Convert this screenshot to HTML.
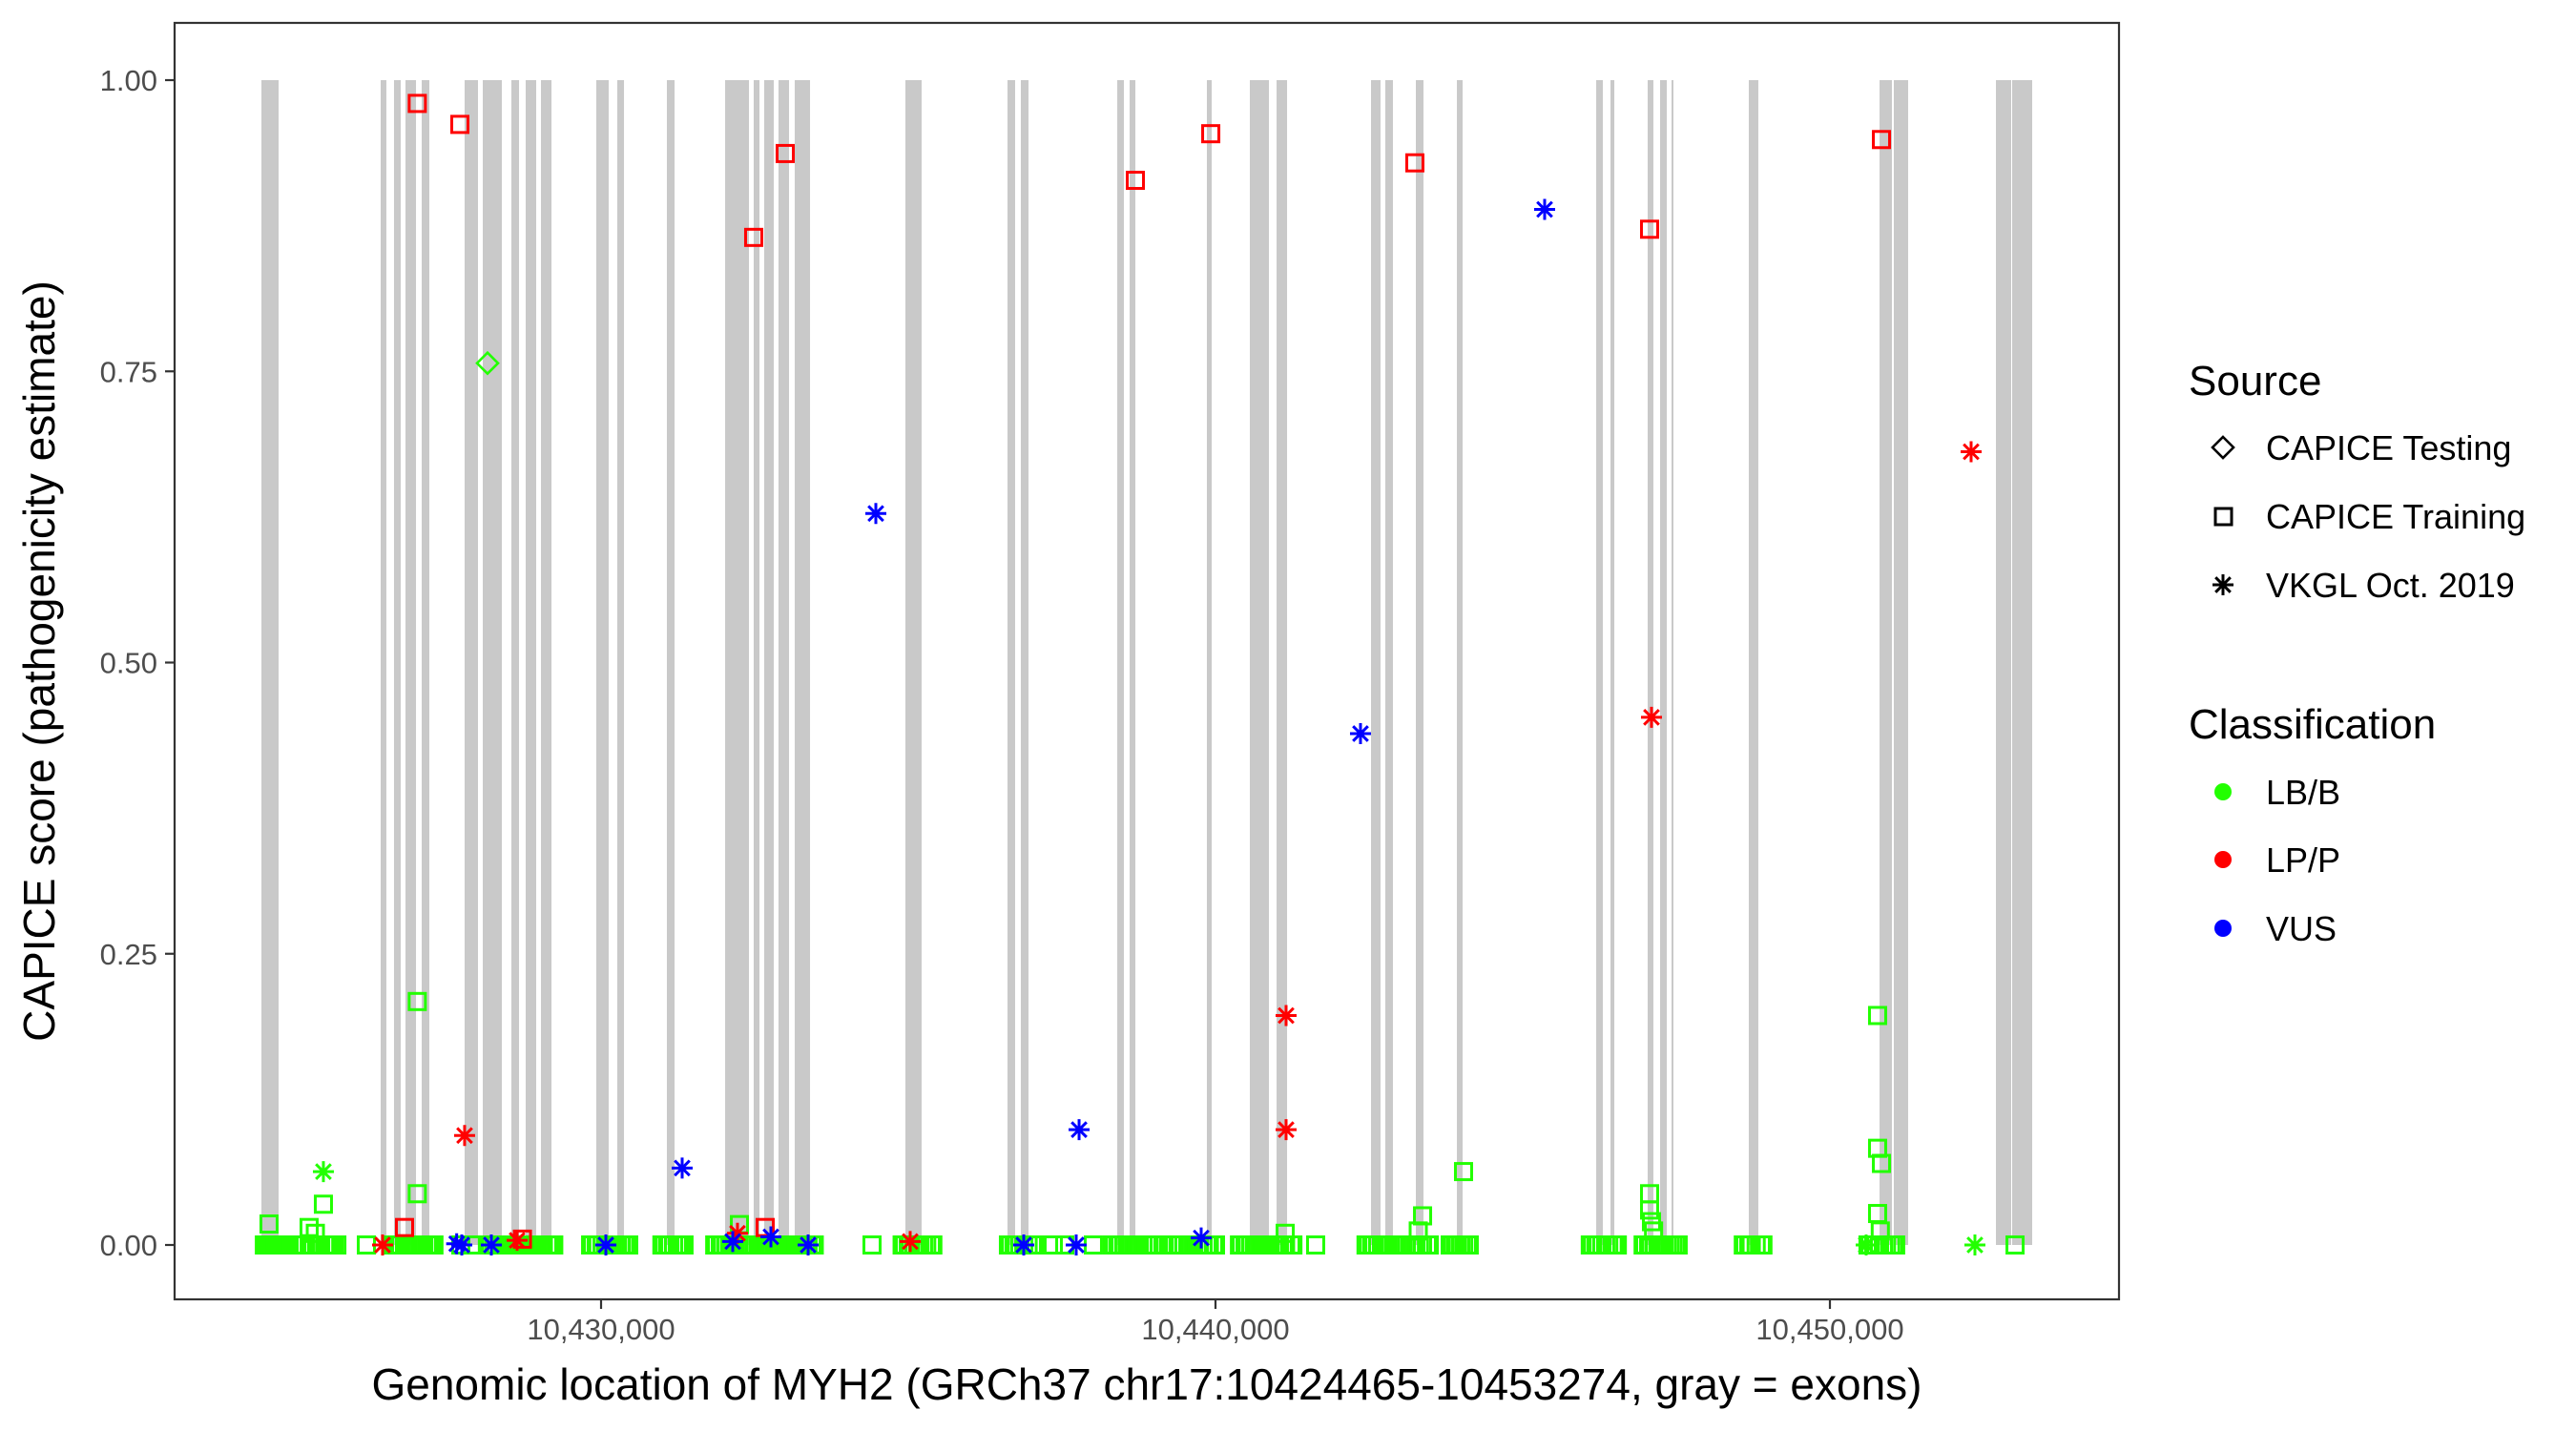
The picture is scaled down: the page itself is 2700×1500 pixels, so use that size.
<!DOCTYPE html>
<html><head><meta charset="utf-8"><style>
html,body{margin:0;padding:0;background:#fff;}
svg{display:block;font-family:"Liberation Sans",Arial,sans-serif;}
</style></head><body>
<svg id="chart" width="2700" height="1500" viewBox="0 0 2700 1500"></svg>
<script>
// ---- data ----
const exonStarts=[10424472,10426413,10426630,10426817,10427081,10427779,10428075,10428540,10428773,10429022,10429922,10430264,10431071,10432019,10432484,10432655,10432888,10433152,10434953,10436615,10436832,10438401,10438603,10439860,10440559,10440994,10442531,10442764,10443261,10443929,10446196,10446429,10447034,10447236,10447422,10448680,10450808,10451040,10452702,10452966];
const exonEnds=[10424752,10426506,10426739,10426988,10427205,10427997,10428385,10428665,10428944,10429193,10430124,10430373,10431196,10432407,10432578,10432811,10433059,10433401,10435217,10436739,10436957,10438509,10438696,10439938,10440870,10441165,10442686,10442888,10443385,10444022,10446304,10446491,10447127,10447345,10447453,10448835,10451009,10451273,10452950,10453292];
// CAPICE Training (squares)
const trainRedPos=[10427009,10427702,10432484,10432997,10438696,10439923,10443245,10447065,10450839,10426801,10432671,10428720];
const trainRedVal=[0.980,0.962,0.865,0.937,0.914,0.954,0.929,0.872,0.949,0.015,0.015,0.005];
const trainGreenPos=[10427009,10427009,10425481,10424596,10425248,10432252,10444037,10450776,10450776,10450839,10450776,10447065,10447065,10443370,10441134,10447096,10447130,10443300,10425350,10450820,
10424550,10424643,10424736,10424829,10425186,10425311,10425435,10425559,10425652,10426180,10426615,10426739,10426863,10426988,10427112,10427236,10427717,10427904,10428199,10428354,10428509,10428665,10428820,10428975,10429130,10429193,10429860,10430016,10430171,10430326,10430419,10431025,10431180,10431320,10431879,10432034,10432189,10432345,10432500,10432655,10432811,10432966,10433121,10433276,10433432,10434410,10434938,10435093,10435248,10435373,10436662,10436817,10437019,10437360,10437547,10438012,10438354,10438509,10438665,10438820,10438975,10439332,10439488,10439643,10439798,10439969,10440419,10440575,10440730,10440885,10441040,10441227,10441630,10442485,10442640,10442795,10442950,10443106,10443261,10443447,10443851,10443991,10444099,10446134,10446289,10446506,10446988,10447143,10447298,10447500,10448618,10448882,10450652,10450808,10451040,10453013];
const trainGreenVal=[0.209,0.044,0.035,0.018,0.015,0.0175,0.063,0.197,0.083,0.070,0.027,0.044,0.030,0.025,0.010,0.020,0.012,0.012,0.010,0.012,
0,0,0,0,0,0,0,0,0,0,0,0,0,0,0,0,0,0,0,0,0,0,0,0,0,0,0,0,0,0,0,0,0,0,0,0,0,0,0,0,0,0,0,0,0,0,0,0,0,0,0,0,0,0,0,0,0,0,0,0,0,0,0,0,0,0,0,0,0,0,0,0,0,0,0,0,0,0,0,0,0,0,0,0,0,0,0,0,0,0,0,0,0,0,0,0,0,0];
// additional densely packed benign training variants scored ~0
const trainGreenZeroPos=[10424520,10424580,10424610,10424680,10424700,10424770,10424800,10424860,
10425150,10425250,10425280,10425370,10425400,10425500,10425530,10425600,10425620,10425700,
10426580,10426660,10426700,10426800,10426830,10426920,10426950,10427050,10427080,10427170,10427200,10427280,
10428150,10428250,10428290,10428400,10428440,10428560,10428600,10428710,10428750,10428860,10428900,10429020,10429060,10429170,10429230,
10429830,10429920,10429950,10430070,10430110,10430230,10430270,10430380,10430450,
10430990,10431080,10431120,10431240,10431280,10431350,
10431850,10431940,10431980,10432090,10432130,10432240,10432290,10432400,10432440,10432560,10432600,10432710,10432750,10432870,10432910,10433020,10433060,10433180,10433220,10433330,10433370,10433470,
10434900,10435000,10435040,10435150,10435190,10435300,10435400,
10436630,10436720,10436760,10436880,10436950,10437050,
10438320,10438410,10438450,10438560,10438600,10438720,10438760,10438880,10438920,10439010,
10439300,10439390,10439430,10439550,10439590,10439700,10439740,10439860,10439900,10440000,
10440390,10440480,10440520,10440630,10440670,10440790,10440830,10440940,10440980,10441100,10441140,10441260,
10442450,10442540,10442580,10442700,10442740,10442850,10442900,10443010,10443050,10443170,10443210,10443320,10443370,10443480,
10443820,10443900,10443940,10444040,10444130,
10446100,10446190,10446230,10446350,10446400,10446470,10446540,
10446960,10447050,10447090,10447200,10447240,10447350,10447400,10447450,10447530,
10448590,10448680,10448720,10448800,10448910,
10450620,10450710,10450750,10450870,10450920,10450990,10451070];
// CAPICE Testing (diamond)
const testGreenPos=[10428152];
const testGreenVal=[0.757];
// VKGL (stars)
const vkglRedPos=[10427779,10441149,10441149,10447096,10452298,10426444,10435031,10428634,10432220];
const vkglRedVal=[0.094,0.197,0.099,0.453,0.681,0,0.003,0.004,0.010];
const vkglBluePos=[10434472,10431320,10437780,10442360,10445357,10427733,10428214,10430078,10432143,10432764,10433370,10436879,10437733,10439767,10427650];
const vkglBlueVal=[0.628,0.066,0.099,0.439,0.889,0,0,0,0.003,0.007,0,0,0,0.006,0.001];
const vkglGreenPos=[10425481,10452360,10450590];
const vkglGreenVal=[0.063,0,0];
const yTicks=[0,0.25,0.5,0.75,1];
const yTickLabels=["0.00","0.25","0.50","0.75","1.00"];
const xTicks=[10430000,10440000,10450000];
const xTickLabels=["10,430,000","10,440,000","10,450,000"];

// ---- axes ----
const PL=183,PR=2221,PT=24,PB=1362;
const x=bp=>630+(bp-10430000)*0.0644;
const y=v=>1305-v*1221;
const NS="http://www.w3.org/2000/svg";
const svg=document.getElementById('chart');
function mk(tag,attrs,parent){const e=document.createElementNS(NS,tag);for(const k in attrs)e.setAttribute(k,attrs[k]);(parent||svg).appendChild(e);return e;}
const COL={g:"#22ff00",r:"#ff0000",b:"#0000ff"};

const bg=mk('rect',{x:PL,y:PT,width:PR-PL,height:PB-PT,fill:"#fff"});



const exG=mk('g',{});


exonStarts.forEach((s,i)=>{
  const r=mk('rect',{x:x(s),y:y(1),width:Math.max(1,x(exonEnds[i])-x(s)),height:y(0)-y(1),fill:"#c9c9c9"},exG);
  
  
});

function square(g,cx,cy,c){return mk('rect',{x:cx-8.5,y:cy-8.5,width:17,height:17,fill:"none",stroke:c,"stroke-width":3},g);}
function diamond(g,cx,cy,c){return mk('polygon',{points:`${cx},${cy-11} ${cx+11},${cy} ${cx},${cy+11} ${cx-11},${cy}`,fill:"none",stroke:c,"stroke-width":2.6},g);}
function star(g,cx,cy,c){const r=11,d=7.8;return mk('path',{d:`M${cx-r},${cy}H${cx+r}M${cx},${cy-r}V${cy+r}M${cx-d},${cy-d}L${cx+d},${cy+d}M${cx-d},${cy+d}L${cx+d},${cy-d}`,stroke:c,"stroke-width":3,fill:"none"},g);}

function series(name,pos,vals,fn,c){
  const g=mk('g',{});
  
  
  pos.forEach((p,i)=>{const e=fn(g,x(p),y(vals?vals[i]:0),c);
    
    });
}
series('training-lbb-zero-points',trainGreenZeroPos,null,square,COL.g);
series('training-lbb-points',trainGreenPos,trainGreenVal,square,COL.g);
series('testing-lbb-points',testGreenPos,testGreenVal,diamond,COL.g);
series('vkgl-lbb-points',vkglGreenPos,vkglGreenVal,star,COL.g);
series('training-lpp-points',trainRedPos,trainRedVal,square,COL.r);
series('vkgl-lpp-points',vkglRedPos,vkglRedVal,star,COL.r);
series('vkgl-vus-points',vkglBluePos,vkglBlueVal,star,COL.b);

const border=mk('rect',{x:PL,y:PT,width:PR-PL,height:PB-PT,fill:"none",stroke:"#333","stroke-width":2.2});



const yAx=mk('g',{});


yTicks.forEach((v,i)=>{
  mk('line',{x1:PL-10,x2:PL,y1:y(v),y2:y(v),stroke:"#333","stroke-width":2.2},yAx);
  const t=mk('text',{x:PL-18,y:y(v)+11,"text-anchor":"end","font-size":31,fill:"#4d4d4d"},yAx);
  t.textContent=yTickLabels[i];
  
  
});
const xAx=mk('g',{});


xTicks.forEach((v,i)=>{
  mk('line',{x1:x(v),x2:x(v),y1:PB,y2:PB+10,stroke:"#333","stroke-width":2.2},xAx);
  const t=mk('text',{x:x(v),y:PB+42,"text-anchor":"middle","font-size":31,fill:"#4d4d4d"},xAx);
  t.textContent=xTickLabels[i];
  
  
});
</script>
<svg width="2700" height="1500" style="position:absolute;left:0;top:0;font-family:'Liberation Sans',Arial,sans-serif">
<text x="1202" y="1467" text-anchor="middle" font-size="46" fill="#000">Genomic location of MYH2 (GRCh37 chr17:10424465-10453274, gray = exons)</text>
<text transform="translate(57,693) rotate(-90)" text-anchor="middle" font-size="46" fill="#000">CAPICE score (pathogenicity estimate)</text>
<g>
<text x="2294" y="414" font-size="44">Source</text>
<g><polygon points="2330,458 2341,469 2330,480 2319,469" fill="none" stroke="#000" stroke-width="2.6"/><text x="2375" y="482" font-size="36">CAPICE Testing</text></g>
<g><rect x="2322" y="533" width="17" height="17" fill="none" stroke="#000" stroke-width="3"/><text x="2375" y="554" font-size="36">CAPICE Training</text></g>
<g><path d="M2319,613H2341M2330,602V624M2322.2,605.2L2337.8,620.8M2322.2,620.8L2337.8,605.2" stroke="#000" stroke-width="3"/><text x="2375" y="626" font-size="36">VKGL Oct. 2019</text></g>
</g>
<g>
<text x="2294" y="774" font-size="44">Classification</text>
<g><circle cx="2330" cy="830" r="9" fill="#22ff00"/><text x="2375" y="843" font-size="36">LB/B</text></g>
<g><circle cx="2330" cy="901" r="9" fill="#ff0000"/><text x="2375" y="914" font-size="36">LP/P</text></g>
<g><circle cx="2330" cy="973" r="9" fill="#0000ff"/><text x="2375" y="986" font-size="36">VUS</text></g>
</g>
</svg>
</body></html>
